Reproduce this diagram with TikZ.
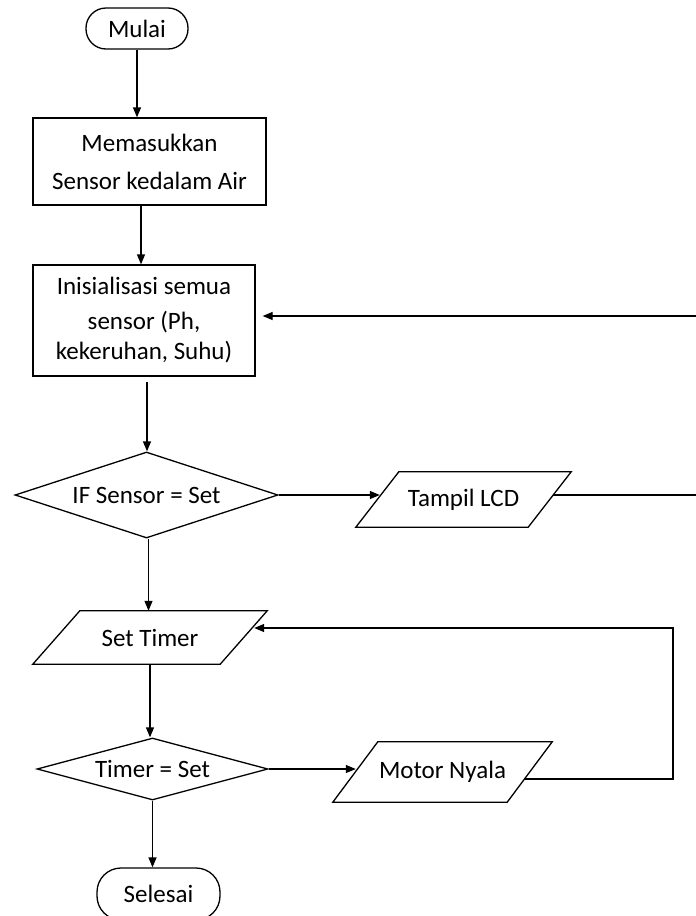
\documentclass[tikz,border=0pt]{standalone}
\usepackage{fontspec}
\setmainfont{Carlito}
\usetikzlibrary{shapes.geometric,arrows.meta,calc}
\newcommand\drawpara[2]{\draw[thickline] ([xshift=#2]#1.north west) -- (#1.north east) -- ([xshift=-#2]#1.south east) -- (#1.south west) -- cycle;}
\begin{document}
\begin{tikzpicture}[x=1pt,y=-1pt,
  every node/.style={font=\fontsize{25}{30}\selectfont, inner sep=0pt},
  thickline/.style={line width=1.3pt},
  terminal/.style={draw, thickline, rounded corners=20pt},
  procbox/.style={draw, thickline, align=center},
  decision/.style={draw, thickline, diamond, aspect=4},
  iobox/.style={align=center},
  arr/.style={thickline, -{Triangle[length=10pt,width=8pt]}}]
\clip (0,0) rectangle (696,916);
\fill[white] (0,0) rectangle (696,916);

\node[terminal, minimum width=102pt, minimum height=41pt] (mulai) at (137,28.5) {Mulai};
\node[procbox, minimum width=233pt, minimum height=87pt] (b1) at (149.5,161.5) {Memasukkan\\[8pt]Sensor kedalam Air};
\node[procbox, minimum width=222pt, minimum height=111pt] (b2) at (144,320.5) {Inisialisasi semua\\[5pt]sensor (Ph,\\kekeruhan, Suhu)};
\node[decision, minimum width=263pt, minimum height=86pt] (d1) at (146.5,495) {IF Sensor = Set};
\node[iobox, minimum width=215pt, minimum height=55pt] (lcd) at (463.5,499.5) {Tampil LCD};
\drawpara{lcd}{43pt}
\node[iobox, minimum width=234pt, minimum height=53pt] (st) at (150,637.5) {Set Timer};
\drawpara{st}{47pt}
\node[decision, minimum width=231pt, minimum height=62pt] (d2) at (152.5,769) {Timer = Set};
\node[iobox, minimum width=219pt, minimum height=60pt] (mn) at (442.5,772) {Motor Nyala};
\drawpara{mn}{45pt}
\node[terminal, rounded corners=24pt, minimum width=123pt, minimum height=52pt] (sel) at (158.5,894) {Selesai};

\coordinate (edge) at (700,0);
\coordinate (loopx) at (673,0);

\draw[arr] (mulai.south) -- (mulai.south |- b1.north);
\coordinate (b1out) at ($(b1.south)+(-8.5,0)$);
\draw[arr] (b1out) -- (b1out |- b2.north);
\coordinate (b2out) at ($(b2.south)+(3,5)$);
\draw[arr] (b2out) -- (b2out |- d1.north);
\coordinate (d1out) at ($(d1.south)+(2,0)$);
\draw[arr] (d1out) -- (d1out |- st.north);
\draw[arr] (st.south) -- (st.south |- d2.north);
\draw[arr] (d2.south) -- (d2.south |- sel.north);

\draw[arr] (d1.east) -- ($(d1.east -| lcd.west)+(24,0)$);
\coordinate (lcdR) at ($(lcd.east)+(-18,-4.5)$);
\draw[thickline] (lcdR) -- (lcdR -| edge);
\coordinate (b2in) at ($(b2.east)+(7,-4.5)$);
\draw[arr] (b2in -| edge) -- (b2in);

\draw[arr] (d2.east) -- ($(d2.east -| mn.west)+(23,0)$);
\coordinate (stin) at ($(st.east)+(-13,-9.5)$);
\coordinate (mnout) at ($(mn.east)+(-27.75,7)$);
\draw[arr] (mnout) -- (mnout -| loopx) -- (stin -| loopx) -- (stin);
\end{tikzpicture}
\end{document}
